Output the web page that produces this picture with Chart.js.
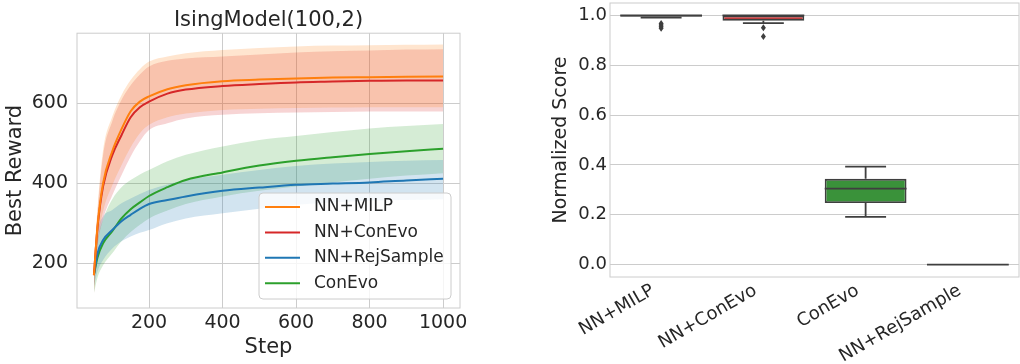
<!DOCTYPE html>
<html lang="en">
<head>
<meta charset="UTF-8">
<title>IsingModel(100,2)</title>
<script src="https://cdn.jsdelivr.net/npm/chart.js"></script>
<style>
  body { margin: 0; background: #fff; }
  #left { position: absolute; left: 0; top: 0; width: 470px; height: 364px; }
  #right { position: absolute; left: 520px; top: 0; width: 500px; height: 364px; }
</style>
</head>
<body>
<div id="left"><canvas id="curveChart"></canvas></div>
<div id="right"><canvas id="boxChart"></canvas></div>
<script>
// ---- left panel data (step vs best reward) ----
const steps = [50, 60, 75, 100, 125, 150, 175, 200, 250, 300, 400, 500, 600, 700, 800, 900, 1000];
const seriesNames = ['NN+MILP', 'NN+ConEvo', 'NN+RejSample', 'ConEvo'];

const milpMean = [170, 295, 400, 480, 535, 580, 604, 617, 635, 645, 655, 659, 662, 664, 665, 666, 667];
const milpHigh = [200, 340, 483, 567, 620, 658, 685, 704, 717, 725, 733, 738, 742, 744, 745, 746, 747];
const milpLow  = [130, 250, 330, 395, 445, 490, 525, 546, 565, 574, 583, 586, 588, 589, 590, 590, 590];

const nnEvoMean = [170, 290, 392, 470, 520, 565, 590, 604, 624, 634, 643, 648, 652, 654, 656, 657, 657];
const nnEvoHigh = [200, 330, 470, 555, 608, 645, 672, 692, 706, 712, 717, 722, 727, 730, 732, 734, 735];
const nnEvoLow  = [120, 240, 310, 370, 420, 467, 505, 533, 550, 562, 571, 575, 577, 578, 579, 579, 579];

const rejMean = [171, 225, 258, 283, 305, 321, 336, 348, 358, 367, 381, 389, 396, 399, 402, 407, 411];
const rejHigh = [200, 280, 317, 333, 350, 362, 373, 383, 397, 408, 421, 433, 443, 449, 453, 456, 458];
const rejLow  = [142, 180, 208, 237, 255, 267, 276, 283, 300, 312, 325, 336, 346, 352, 356, 358, 360];

const evoMean = [171, 215, 250, 280, 312, 335, 352, 368, 390, 408, 427, 444, 456, 465, 473, 480, 486];
const evoHigh = [192, 260, 310, 360, 390, 408, 422, 433, 455, 471, 492, 508, 518, 528, 537, 543, 548];
const evoLow  = [125, 165, 195, 225, 255, 278, 296, 312, 332, 348, 367, 381, 392, 402, 411, 419, 425];

const stepTicks = [200, 400, 600, 800, 1000];
const rewardTicks = [200, 400, 600];

// ---- right panel data (normalized score box plots) ----
const boxLabels = ['NN+MILP', 'NN+ConEvo', 'ConEvo', 'NN+RejSample'];
const boxQ1 = [0.995, 0.979, 0.247, 0];
const boxQ3 = [1.0, 1.0, 0.344, 0];
const boxMedian = [1.0, 1.0, 0.305, 0];
const boxWhiskerLow = [0.991, 0.969, 0.191, 0];
const boxWhiskerHigh = [1.0, 1.0, 0.393, 0];
const boxOutliers = [[0.968, 0.962, 0.955, 0.949], [0.951, 0.916], [], []];
const scoreTicks = [0, 0.2, 0.4, 0.6, 0.8, 1.0];

// styles
const lineColors = ['#ff7f0e', '#d62728', '#1f77b4', '#2ca02c'];
const bandColors = ['rgba(255,127,14,0.2)', 'rgba(214,39,40,0.2)', 'rgba(31,119,180,0.2)', 'rgba(44,160,44,0.2)'];
const boxColors = ['#e1812c', '#c03d3e', '#3a923a', '#3274a1'];
const edgeColor = '#3f3f3f';
const gridColor = '#cccccc';

Chart.defaults.font.family = "'DejaVu Sans', sans-serif";
Chart.defaults.color = '#262626';
Chart.defaults.animation = false;

const pts = arr => arr.map((v, i) => ({ x: steps[i], y: v }));

const frame = {
  id: 'frame',
  beforeDatasetsDraw(chart) {
    const { ctx, chartArea: a } = chart;
    ctx.save();
    ctx.strokeStyle = gridColor;
    ctx.lineWidth = 1;
    ctx.strokeRect(a.left, a.top, a.right - a.left, a.bottom - a.top);
    ctx.restore();
  }
};

const legendBox = {
  id: 'legendBox',
  afterDraw(chart) {
    const { ctx, chartArea } = chart;
    const w = 192, h = 106;
    const x0 = chartArea.right - 9 - w, y0 = chartArea.bottom - 9 - h;
    ctx.save();
    ctx.beginPath();
    ctx.roundRect(x0, y0, w, h, 4);
    ctx.fillStyle = 'rgba(255,255,255,0.8)';
    ctx.fill();
    ctx.strokeStyle = gridColor;
    ctx.lineWidth = 1;
    ctx.stroke();
    ctx.font = "17px 'DejaVu Sans'";
    ctx.textBaseline = 'middle';
    chart.data.datasets.slice(0, 4).forEach((ds, i) => {
      const yy = y0 + 14 + i * 25.4;
      ctx.strokeStyle = ds.borderColor;
      ctx.lineWidth = 2;
      ctx.beginPath();
      ctx.moveTo(x0 + 6, yy);
      ctx.lineTo(x0 + 41, yy);
      ctx.stroke();
      ctx.fillStyle = '#262626';
      ctx.fillText(ds.label, x0 + 55, yy);
    });
    ctx.restore();
  }
};

const means = [milpMean, nnEvoMean, rejMean, evoMean];
const highs = [milpHigh, nnEvoHigh, rejHigh, evoHigh];
const lows = [milpLow, nnEvoLow, rejLow, evoLow];

const curveSets = [];
seriesNames.forEach((name, i) => {
  curveSets.push({
    label: name, data: pts(means[i]), borderColor: lineColors[i], borderWidth: 2,
    pointRadius: 0, fill: false, cubicInterpolationMode: 'monotone'
  });
});
seriesNames.forEach((name, i) => {
  curveSets.push({
    label: '', data: pts(highs[i]), borderWidth: 0, pointRadius: 0,
    backgroundColor: bandColors[i], fill: '+1', cubicInterpolationMode: 'monotone'
  });
  curveSets.push({
    label: '', data: pts(lows[i]), borderWidth: 0, pointRadius: 0,
    fill: false, cubicInterpolationMode: 'monotone'
  });
});

new Chart(document.getElementById('curveChart'), {
  type: 'line',
  data: { datasets: curveSets },
  options: {
    responsive: true,
    maintainAspectRatio: false,
    layout: { padding: { top: 0, right: 10, bottom: 0, left: 0 } },
    plugins: {
      legend: { display: false },
      tooltip: { enabled: false },
      title: {
        display: true, text: 'IsingModel(100,2)', fullSize: false,
        font: { size: 21, weight: 'normal' }, padding: { top: 8, bottom: 0 }, color: '#262626'
      }
    },
    scales: {
      x: {
        type: 'linear', min: 4, max: 1046,
        afterBuildTicks: s => { s.ticks = stepTicks.map(v => ({ value: v })); },
        afterFit: s => { s.height = 56; s.paddingLeft = 0; s.paddingRight = 0; },
        ticks: { font: { size: 19 }, padding: 4, maxRotation: 0, callback: v => String(v) },
        grid: { color: gridColor, drawTicks: false },
        border: { display: false },
        title: { display: true, text: 'Step', font: { size: 21 }, padding: { top: 0, bottom: 4 } }
      },
      y: {
        min: 88, max: 775,
        afterBuildTicks: s => { s.ticks = rewardTicks.map(v => ({ value: v })); },
        afterFit: s => { s.width = 77; s.paddingTop = 0; s.paddingBottom = 0; },
        ticks: { font: { size: 19 }, padding: 9, callback: v => String(v) },
        grid: { color: gridColor, drawTicks: false },
        border: { display: false },
        title: { display: true, text: 'Best Reward', font: { size: 21 }, padding: { top: 3, bottom: 0 } }
      }
    }
  },
  plugins: [frame, legendBox]
});

const boxParts = {
  id: 'boxParts',
  afterDatasetsDraw(chart) {
    const { ctx, scales: { y } } = chart;
    const meta = chart.getDatasetMeta(0);
    ctx.save();
    ctx.strokeStyle = edgeColor;
    ctx.fillStyle = edgeColor;
    ctx.lineWidth = 1.8;
    boxLabels.forEach((lab, i) => {
      const bar = meta.data[i];
      const cx = bar.x, half = bar.width / 2, cap = half / 2;
      const py = v => y.getPixelForValue(v);
      ctx.beginPath();
      // whiskers
      ctx.moveTo(cx, py(boxQ1[i])); ctx.lineTo(cx, py(boxWhiskerLow[i]));
      ctx.moveTo(cx, py(boxQ3[i])); ctx.lineTo(cx, py(boxWhiskerHigh[i]));
      // caps
      ctx.moveTo(cx - cap, py(boxWhiskerLow[i])); ctx.lineTo(cx + cap, py(boxWhiskerLow[i]));
      ctx.moveTo(cx - cap, py(boxWhiskerHigh[i])); ctx.lineTo(cx + cap, py(boxWhiskerHigh[i]));
      // median
      ctx.moveTo(cx - half, py(boxMedian[i])); ctx.lineTo(cx + half, py(boxMedian[i]));
      ctx.stroke();
      // outliers
      boxOutliers[i].forEach(v => {
        const oy = py(v);
        ctx.beginPath();
        ctx.moveTo(cx, oy - 3.5); ctx.lineTo(cx + 2.5, oy); ctx.lineTo(cx, oy + 3.5); ctx.lineTo(cx - 2.5, oy);
        ctx.closePath();
        ctx.fill();
      });
    });
    ctx.restore();
  }
};

new Chart(document.getElementById('boxChart'), {
  type: 'bar',
  data: {
    labels: boxLabels,
    datasets: [{
      data: boxLabels.map((l, i) => [boxQ1[i], boxQ3[i]]),
      backgroundColor: boxColors,
      borderColor: edgeColor,
      borderWidth: 1.8,
      borderSkipped: false,
      categoryPercentage: 1,
      barPercentage: 0.8
    }]
  },
  options: {
    responsive: true,
    maintainAspectRatio: false,
    layout: { padding: { top: 3, right: 1, bottom: 0, left: 0 } },
    plugins: { legend: { display: false }, tooltip: { enabled: false } },
    scales: {
      x: {
        afterFit: s => { s.height = 87; s.paddingLeft = 0; s.paddingRight = 0; },
        ticks: { font: { size: 18 }, minRotation: 30, maxRotation: 30, padding: 3, labelOffset: -8 },
        grid: { display: false, drawTicks: false },
        border: { display: false }
      },
      y: {
        min: -0.05, max: 1.05,
        afterBuildTicks: s => { s.ticks = scoreTicks.map(v => ({ value: v })); },
        afterFit: s => { s.width = 90; s.paddingTop = 0; s.paddingBottom = 0; },
        ticks: { font: { size: 18 }, padding: 3, callback: v => v.toFixed(1) },
        grid: { color: gridColor, drawTicks: false },
        border: { display: false },
        title: { display: true, text: 'Normalized Score', font: { size: 19 }, padding: { top: 30, bottom: 0 } }
      }
    }
  },
  plugins: [frame, boxParts]
});
</script>
</body>
</html>
